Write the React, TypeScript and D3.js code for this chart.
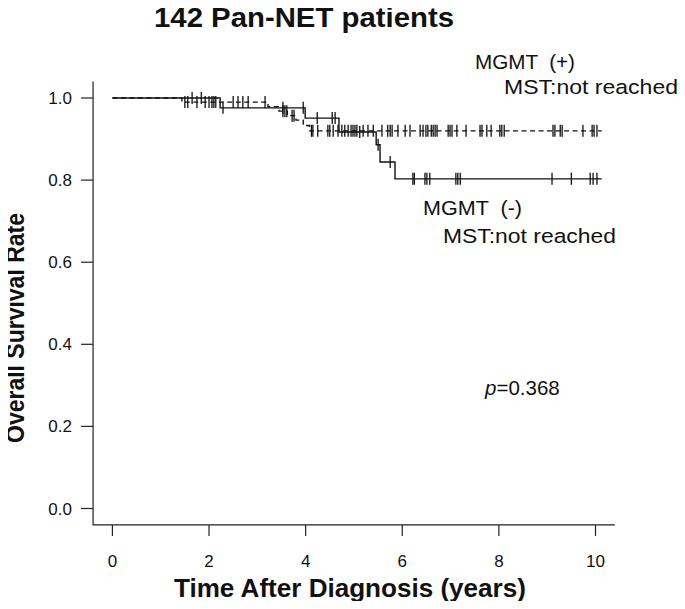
import * as d3 from 'd3';
import { useEffect, useRef } from 'react';

// MGMT (+) group: step times and survival after each step
const posEventTimes = [1.44, 3.22, 3.45, 3.62, 3.8, 3.95, 4.08];
const posSurvival = [0.99, 0.979, 0.968, 0.957, 0.946, 0.933, 0.92];
const posLastTime = 10.13;
const posCensored = [
  1.5, 1.56, 1.75, 1.92, 2.0, 2.06, 2.1, 2.14, 2.5, 2.6, 2.7, 2.81, 3.16,
  3.53, 3.57, 3.61, 3.72, 3.76,
  4.12, 4.15, 4.25, 4.46, 4.5, 4.57, 4.67, 4.75, 4.81, 4.88, 4.94, 4.98, 5.02, 5.06,
  5.19, 5.29, 5.4, 5.58, 5.7, 5.75, 5.79, 5.91, 6.06, 6.16, 6.37, 6.43, 6.49, 6.53,
  6.6, 6.64, 6.68, 6.72, 6.95, 6.99, 7.03, 7.13, 7.32, 7.61, 7.65, 7.75, 7.84,
  8.02, 8.06, 8.11, 9.12, 9.16, 9.27, 9.31, 9.74, 9.93, 9.97, 10.03,
];

// MGMT (-) group
const negEventTimes = [2.23, 3.99, 4.69, 5.46, 5.54, 5.85];
const negSurvival = [0.976, 0.951, 0.917, 0.886, 0.844, 0.803];
const negLastTime = 10.13;
const negCensored = [
  1.65, 1.84, 2.29, 3.53, 3.95, 4.24, 4.55, 4.61, 5.12, 5.5, 5.75,
  6.22, 6.25, 6.47, 6.51, 6.57, 7.11, 7.15, 7.2, 9.1, 9.5, 9.89, 9.95, 10.03,
];

const xTicks = [0, 2, 4, 6, 8, 10];
const yTicks = [0, 0.2, 0.4, 0.6, 0.8, 1.0];

const FONT = '"Liberation Sans", Arial, sans-serif';

const KaplanMeier = () => {
  const ref = useRef<SVGSVGElement>(null);

  useEffect(() => {
    const svg = d3.select(ref.current);
    svg.selectAll('*').remove();

    const width = 685, height = 609;
    svg.attr('width', width).attr('height', height).style('display', 'block');

    const x = d3.scaleLinear().domain([0, 10]).range([112.4, 595.5]);
    const y = d3.scaleLinear().domain([0, 1]).range([508.5, 98]);

    const g = svg.append('g').attr('font-family', FONT).attr('fill', '#111');

    // L-shaped box (R style, 4% extension)
    g.append('path')
      .attr('d', `M${x(-0.4)},${y(1.04)}V${y(-0.04)}H${x(10.4)}`)
      .attr('fill', 'none')
      .attr('stroke', '#222')
      .attr('stroke-width', 1.2);

    // x ticks
    g.selectAll('line.xt')
      .data(xTicks)
      .enter()
      .append('line')
      .attr('x1', d => x(d)).attr('x2', d => x(d))
      .attr('y1', y(-0.04)).attr('y2', y(-0.04) + 11)
      .attr('stroke', '#222').attr('stroke-width', 1.2);
    g.selectAll('text.xl')
      .data(xTicks)
      .enter()
      .append('text')
      .attr('x', d => x(d))
      .attr('y', 567)
      .attr('text-anchor', 'middle')
      .attr('font-size', 17)
      .text(d => d);

    // y ticks
    g.selectAll('line.yt')
      .data(yTicks)
      .enter()
      .append('line')
      .attr('x1', x(-0.4) - 12).attr('x2', x(-0.4))
      .attr('y1', d => y(d)).attr('y2', d => y(d))
      .attr('stroke', '#222').attr('stroke-width', 1.2);
    g.selectAll('text.yl')
      .data(yTicks)
      .enter()
      .append('text')
      .attr('x', 72)
      .attr('y', d => y(d) + 6)
      .attr('text-anchor', 'end')
      .attr('font-size', 17)
      .text(d => d.toFixed(1));

    // axis titles
    g.append('text')
      .attr('x', x(5) - 4)
      .attr('y', 597)
      .attr('text-anchor', 'middle')
      .attr('font-size', 26)
      .attr('font-weight', 'bold')
      .attr('textLength', 352)
      .attr('lengthAdjust', 'spacingAndGlyphs')
      .text('Time After Diagnosis (years)');
    g.append('text')
      .attr('transform', `translate(24,328) rotate(-90)`)
      .attr('text-anchor', 'middle')
      .attr('font-size', 25)
      .attr('font-weight', 'bold')
      .attr('textLength', 230)
      .attr('lengthAdjust', 'spacingAndGlyphs')
      .text('Overall Survival Rate');

    // title
    g.append('text')
      .attr('x', 154)
      .attr('y', 27)
      .attr('font-size', 27)
      .attr('font-weight', 'bold')
      .attr('textLength', 300)
      .attr('lengthAdjust', 'spacingAndGlyphs')
      .text('142 Pan-NET patients');

    // survival curves
    const stepPoints = (times: number[], surv: number[], last: number) => {
      const pts: [number, number][] = [[0, 1]];
      times.forEach((t, i) => pts.push([t, surv[i]]));
      pts.push([last, surv[surv.length - 1]]);
      return pts;
    };
    const survAt = (times: number[], surv: number[], t: number) => {
      let s = 1;
      times.forEach((et, i) => { if (et <= t) s = surv[i]; });
      return s;
    };
    const line = d3.line<[number, number]>()
      .x(d => x(d[0]))
      .y(d => y(d[1]))
      .curve(d3.curveStepAfter);

    const groups = [
      { times: posEventTimes, surv: posSurvival, last: posLastTime, cens: posCensored, dash: '5,3.5' },
      { times: negEventTimes, surv: negSurvival, last: negLastTime, cens: negCensored, dash: null },
    ];

    groups.forEach(grp => {
      g.append('path')
        .attr('d', line(stepPoints(grp.times, grp.surv, grp.last)))
        .attr('fill', 'none')
        .attr('stroke', '#111')
        .attr('stroke-width', 1.4)
        .attr('stroke-dasharray', grp.dash);
      g.append('g')
        .selectAll('line')
        .data(grp.cens)
        .enter()
        .append('line')
        .attr('x1', d => x(d)).attr('x2', d => x(d))
        .attr('y1', d => y(survAt(grp.times, grp.surv, d)) - 6)
        .attr('y2', d => y(survAt(grp.times, grp.surv, d)) + 6)
        .attr('stroke', '#111')
        .attr('stroke-width', 1.3);
    });

    // annotations
    const note = (tx: string, px: number, py: number, len: number) =>
      g.append('text')
        .attr('x', px).attr('y', py)
        .attr('font-size', 20.5)
        .attr('textLength', len)
        .attr('lengthAdjust', 'spacingAndGlyphs')
        .style('white-space', 'pre')
        .text(tx);
    note('MGMT  (+)', 475, 69, 100);
    note('MST:not reached', 504, 94, 174);
    note('MGMT  (-)', 423, 215, 99);
    note('MST:not reached', 443, 243, 173);

    const p = g.append('text')
      .attr('x', 485).attr('y', 395)
      .attr('font-size', 20.5);
    p.append('tspan').attr('font-style', 'italic').text('p');
    p.append('tspan').text('=0.368');
  }, []);

  return <svg ref={ref}></svg>;
};

export default function App() {
  return (
    <div style={{ margin: -8 }}>
      <KaplanMeier />
    </div>
  );
}
